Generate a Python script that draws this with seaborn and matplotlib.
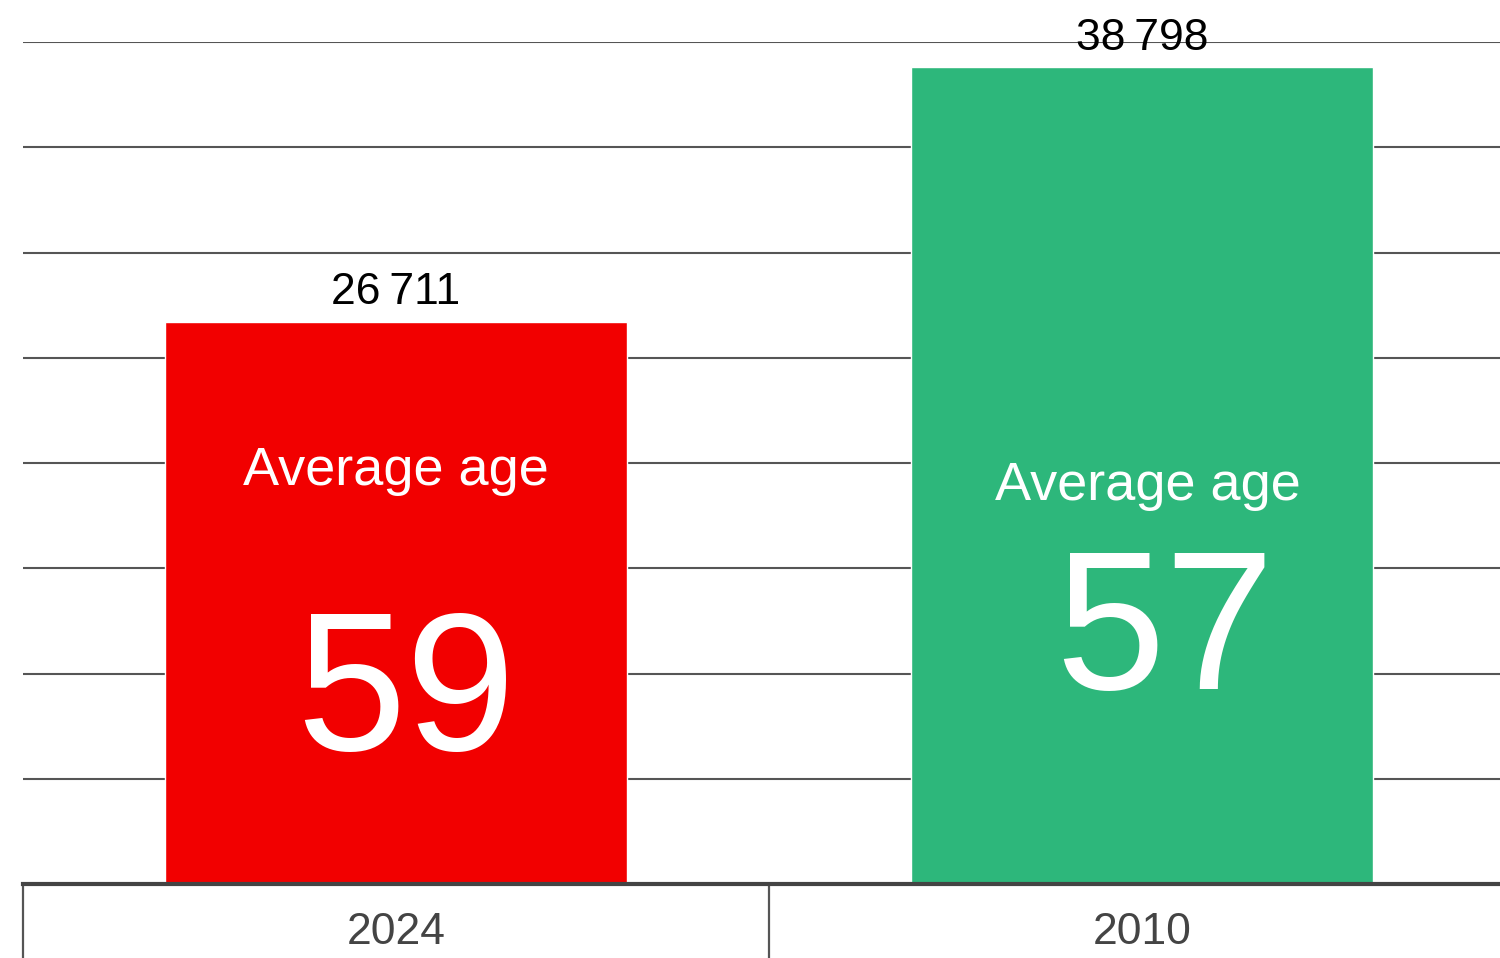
import matplotlib
matplotlib.use("Agg")
import matplotlib.pyplot as plt
import seaborn as sns
import pandas as pd

# Headcount per year and the average age shown inside each bar
years = ["2024", "2010"]
counts = [26711, 38798]
avg_ages = [59, 57]
bar_colors = ["#f20000", "#2db77b"]
age_caption = "Average age"

sns.set_theme(style="white")
plt.rcParams["font.family"] = ["Liberation Sans", "DejaVu Sans"]

df = pd.DataFrame({"year": years, "count": counts})

fig = plt.figure(figsize=(15, 9.58), dpi=100)
ax = fig.add_axes([23 / 1500, 74 / 958, 1492 / 1500, 842 / 958])

sns.barplot(data=df, x="year", y="count", hue="year", palette=bar_colors,
            width=0.62, saturation=1, legend=False, ax=ax, zorder=3)

ax.set_ylim(0, 40000)
ax.set_xlim(-0.5, 1.5)
ax.set_yticks(range(5000, 40001, 5000))
ax.set_yticklabels([])
ax.tick_params(axis="y", length=0)
ax.yaxis.grid(True, color="#555555", lw=1.5, zorder=0)
ax.set_axisbelow(True)

for s in ["top", "right", "left"]:
    ax.spines[s].set_visible(False)
ax.spines["bottom"].set_color("#444444")
ax.spines["bottom"].set_linewidth(3)
ax.spines["bottom"].set_zorder(5)

ax.set_xlabel("")
ax.set_ylabel("")

# category separators below the baseline
ax.set_xticks([-0.5, 0.5, 1.5], minor=True)
ax.tick_params(axis="x", which="minor", bottom=True, length=56, width=1.6,
               color="#555555", direction="out")
ax.tick_params(axis="x", which="major", bottom=False, length=0, pad=20,
               labelsize=32, labelcolor="#444444")

# value labels above bars
for i, v in enumerate(counts):
    ax.annotate(f"{v:,}".replace(",", "\u2009"), xy=(i, v), xytext=(0, 6),
                textcoords="offset points", ha="center", va="bottom",
                fontsize=32, color="black", zorder=6, annotation_clip=False)

# average-age captions inside bars
caption_x = [0.0, 1.008]
caption_y = [19610, 18910]
age_x = [0.013, 1.03]
age_y = [8800, 11700]
for i in range(len(years)):
    ax.text(caption_x[i], caption_y[i], age_caption, ha="center", va="center",
            fontsize=39, color="white", zorder=6)
    ax.text(age_x[i], age_y[i], str(avg_ages[i]), ha="center", va="center",
            fontsize=142, color="white", zorder=6)

fig.savefig("out.png", dpi=100)
